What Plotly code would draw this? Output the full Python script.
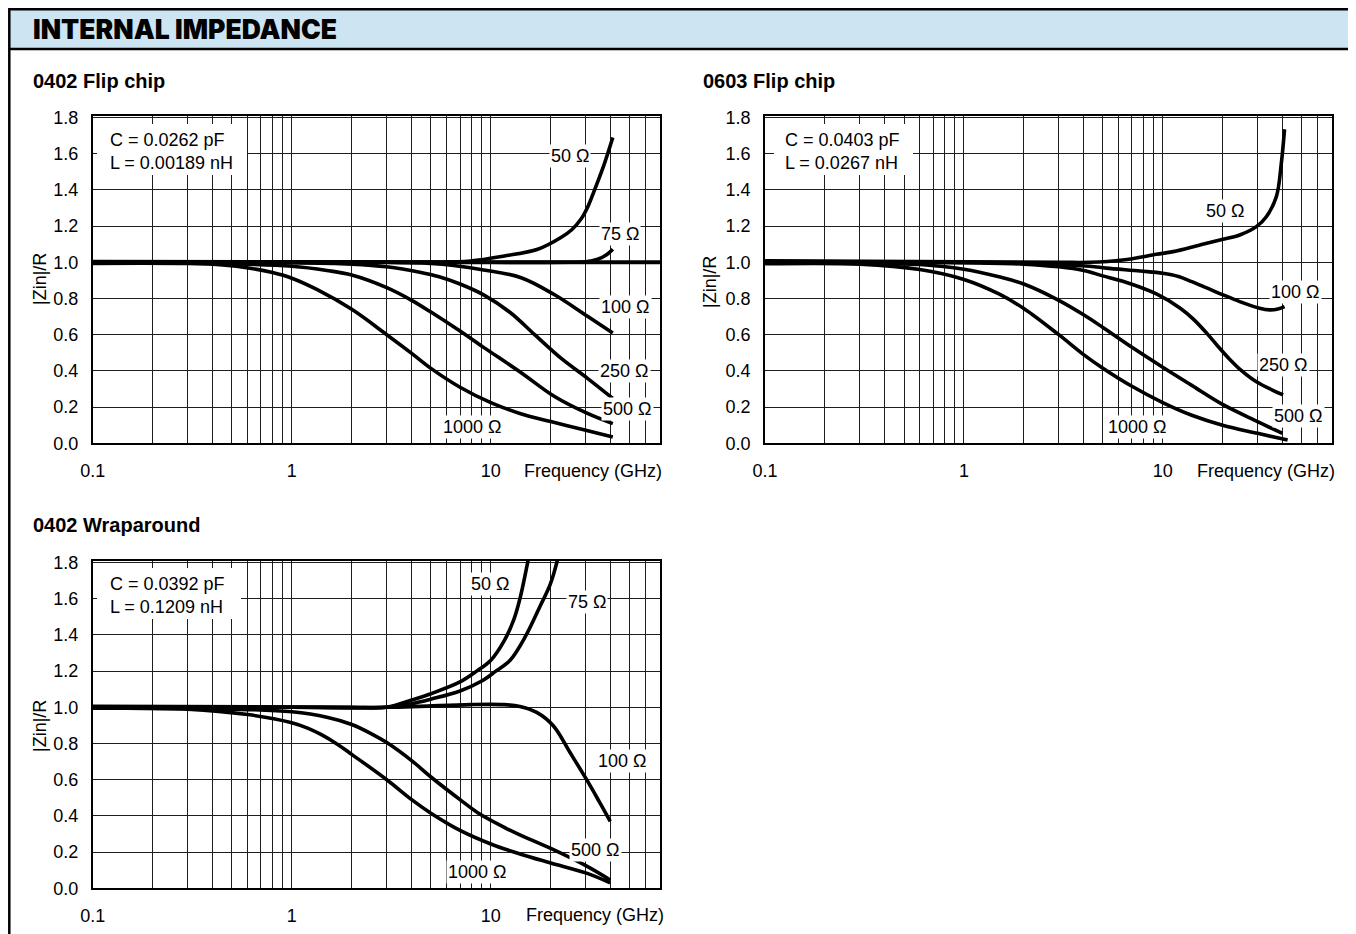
import plotly.graph_objects as go

W, H = 1356, 934

# ---------------- data ----------------
x_tick_vals = [0.1, 0.2, 0.3, 0.4, 0.5, 0.6, 0.7, 0.8, 0.9,
               1, 2, 3, 4, 5, 6, 7, 8, 9,
               10, 20, 30, 40, 50, 60, 70]
x_tick_text = ["0.1", "", "", "", "", "", "", "", "",
               "1", "", "", "", "", "", "", "", "",
               "10", "", "", "", "", "", ""]
y_tick_vals = [0.0, 0.2, 0.4, 0.6, 0.8, 1.0, 1.2, 1.4, 1.6, 1.8]
y_tick_text = ["0.0", "0.2", "0.4", "0.6", "0.8", "1.0", "1.2", "1.4", "1.6", "1.8"]

# Panel 1: 0402 Flip chip
f1_50 = [0.1, 1, 3, 5, 7.9, 11.7, 17.2, 22.5, 25.5, 28.4, 30.8, 33.1, 36.8, 41]
z1_50 = [1.004, 1.002, 1.0, 1.0, 1.007, 1.035, 1.072, 1.137, 1.18, 1.239, 1.31, 1.396, 1.53, 1.69]
f1_75 = [0.1, 10, 25, 30, 34.4, 38, 41]
z1_75 = [1.002, 1.0, 1.0, 1.003, 1.017, 1.04, 1.072]
f1_100 = [0.1, 3, 5, 6.5, 9.2, 14.2, 20.8, 30.6, 41]
z1_100 = [1.0, 1.0, 0.993, 0.982, 0.958, 0.915, 0.822, 0.702, 0.609]
f1_250 = [0.1, 1, 2, 3, 4.4, 5.5, 7, 9.2, 12.6, 16.6, 22.5, 30.6, 41]
z1_250 = [0.998, 0.998, 0.99, 0.975, 0.945, 0.92, 0.88, 0.82, 0.72, 0.60, 0.47, 0.359, 0.248]
f1_500 = [0.1, 0.4, 1, 1.5, 2, 3, 4, 5, 7, 9.2, 14.2, 20.8, 30.6, 41]
z1_500 = [0.996, 0.994, 0.978, 0.955, 0.93, 0.86, 0.79, 0.725, 0.62, 0.53, 0.39, 0.26, 0.165, 0.109]
f1_1000 = [0.1, 0.3, 0.45, 0.617, 0.8, 1, 1.335, 2, 3, 4, 5, 7, 10, 14, 20, 30, 41]
z1_1000 = [0.994, 0.993, 0.985, 0.967, 0.943, 0.912, 0.85, 0.74, 0.60, 0.497, 0.414, 0.31, 0.225, 0.165, 0.12, 0.072, 0.035]

# Panel 2: 0603 Flip chip
f2_50 = [0.1, 3, 4.3, 6.3, 9.3, 11.3, 15.4, 20.1, 24.4, 29.6, 33.2, 37.3, 39.5, 41]
z2_50 = [1.008, 1.0, 1.0, 1.013, 1.044, 1.059, 1.096, 1.127, 1.151, 1.197, 1.252, 1.363, 1.547, 1.735]
f2_100 = [0.1, 2, 4.3, 5.2, 7.7, 10, 12, 14, 16.5, 20.1, 24.4, 30.7, 34.5, 38, 41]
z2_100 = [1.004, 0.995, 0.978, 0.968, 0.952, 0.94, 0.922, 0.893, 0.86, 0.82, 0.783, 0.746, 0.737, 0.742, 0.755]
f2_250 = [0.1, 1, 2, 3, 4, 5, 6.3, 9.3, 12.3, 14.3, 16.6, 19, 21.7, 25, 29.6, 40.3]
z2_250 = [1.0, 0.998, 0.99, 0.975, 0.955, 0.925, 0.895, 0.825, 0.745, 0.685, 0.61, 0.535, 0.465, 0.40, 0.34, 0.267]
f2_500 = [0.1, 0.3, 0.6, 1, 1.5, 2, 3, 4, 5, 7, 10, 14, 20, 30, 40]
z2_500 = [0.996, 0.995, 0.988, 0.962, 0.92, 0.88, 0.79, 0.71, 0.64, 0.53, 0.42, 0.32, 0.215, 0.12, 0.055]
f2_1000 = [0.1, 0.3, 0.6, 1, 1.5, 2, 3, 4, 5, 7, 10, 14, 20, 30, 42.5]
z2_1000 = [0.992, 0.99, 0.96, 0.905, 0.825, 0.745, 0.6, 0.49, 0.415, 0.315, 0.225, 0.155, 0.10, 0.055, 0.018]

# Panel 3: 0402 Wraparound
f3_50 = [0.1, 1, 2, 3, 4, 5, 7, 8.5, 10, 11.7, 13, 14, 15.5]
z3_50 = [1.005, 1.002, 1.0, 1.0, 1.04, 1.075, 1.14, 1.2, 1.26, 1.37, 1.48, 1.6, 1.83]
f3_75 = [0.1, 1, 3, 4, 5, 7, 9, 10.6, 12.5, 14.9, 17.7, 19.9, 21.8]
z3_75 = [1.003, 1.0, 1.0, 1.02, 1.045, 1.09, 1.145, 1.2, 1.26, 1.39, 1.56, 1.68, 1.83]
f3_100 = [0.1, 1, 3, 4.4, 7.9, 11.6, 14, 17, 20.6, 25, 30.3, 35, 39.8]
z3_100 = [1.0, 1.0, 1.0, 1.005, 1.015, 1.015, 1.005, 0.972, 0.898, 0.75, 0.60, 0.48, 0.37]
f3_500 = [0.1, 0.5, 1, 1.5, 2, 2.5, 3, 4, 5, 7, 8.8, 12, 14, 20, 30, 39.8]
z3_500 = [0.997, 0.99, 0.975, 0.945, 0.905, 0.855, 0.805, 0.705, 0.615, 0.49, 0.41, 0.33, 0.295, 0.22, 0.125, 0.046]
f3_1000 = [0.1, 0.3, 0.6, 1, 1.2, 1.4, 1.7, 2, 3, 4, 5, 7, 10, 14, 20, 30, 39.8]
z3_1000 = [0.995, 0.99, 0.96, 0.915, 0.885, 0.85, 0.795, 0.74, 0.60, 0.49, 0.415, 0.32, 0.245, 0.19, 0.14, 0.085, 0.03]

panel_titles = ["0402 Flip chip", "0603 Flip chip", "0402 Wraparound"]
panel_params = ["C = 0.0262 pF<br>L = 0.00189 nH",
                "C = 0.0403 pF<br>L = 0.0267 nH",
                "C = 0.0392 pF<br>L = 0.1209 nH"]
curve_names = {
    1: ["50 Ω", "75 Ω", "100 Ω", "250 Ω", "500 Ω", "1000 Ω"],
    2: ["50 Ω", "100 Ω", "250 Ω", "500 Ω", "1000 Ω"],
    3: ["50 Ω", "75 Ω", "100 Ω", "500 Ω", "1000 Ω"],
}
curves = {
    1: [(f1_50, z1_50), (f1_75, z1_75), (f1_100, z1_100), (f1_250, z1_250), (f1_500, z1_500), (f1_1000, z1_1000)],
    2: [(f2_50, z2_50), (f2_100, z2_100), (f2_250, z2_250), (f2_500, z2_500), (f2_1000, z2_1000)],
    3: [(f3_50, z3_50), (f3_75, z3_75), (f3_100, z3_100), (f3_500, z3_500), (f3_1000, z3_1000)],
}

# ---------------- layout helpers ----------------
FONT = "Liberation Sans, Arial, Helvetica, sans-serif"
PAGE_OFF = 8  # the page places the figure 8 px in from the top-left corner

def px2x(px):
    return (px - PAGE_OFF) / W

def px2y(py):
    return 1 - (py - PAGE_OFF) / H

areas = {
    1: (92.7, 660.0, 115.7, 443.3),
    2: (765.0, 1331.7, 115.7, 443.3),
    3: (92.7, 660.0, 560.7, 888.3),
}
label_pos = {
    1: [(570, 156), (620, 234), (625, 307), (624, 371), (627, 409), (472, 427)],
    2: [(1225, 211), (1295, 292), (1283, 365), (1298, 416), (1137, 427)],
    3: [(490, 584), (587, 602), (622, 761), (595, 850), (477, 872)],
}
param_box = {
    1: (97, 247, 124, 175, 108, 151),
    2: (774, 913, 124, 175, 783, 151),
    3: (97, 241, 568, 619, 108, 595),
}
ylabel_pos = {1: (40, 279), 2: (710, 282), 3: (40, 726)}
freq_pos = {1: (664, 471), 2: (1337, 471), 3: (666, 915)}
title_pos = {1: (31, 81), 2: (701, 81), 3: (31, 525)}

fig = go.Figure()
layout = dict(
    width=W, height=H,
    margin=dict(l=0, r=0, t=0, b=0, pad=0, autoexpand=False),
    paper_bgcolor="white", plot_bgcolor="white",
    showlegend=False,
    font=dict(family=FONT, size=18, color="black"),
)
shapes = []
annotations = []

for p in (1, 2, 3):
    l, r, t, b = areas[p]
    sfx = "" if p == 1 else str(p)
    xa = dict(
        type="log", range=[-1.0005, 1.85],
        domain=[px2x(l), px2x(r)],
        anchor="y" + sfx,
        tickmode="array", tickvals=x_tick_vals, ticktext=x_tick_text,
        showgrid=True, gridcolor="#1e1e1e", gridwidth=1.1,
        showline=True, linecolor="black", linewidth=1.6, mirror=True,
        ticks="", ticklabelstandoff=10,
        tickfont=dict(family=FONT, size=18, color="black"),
        zeroline=False, fixedrange=True, automargin=False,
    )
    ya = dict(
        range=[0, 1.81],
        domain=[px2y(b), px2y(t)],
        anchor="x" + sfx,
        tickmode="array", tickvals=y_tick_vals, ticktext=y_tick_text,
        showgrid=True, gridcolor="#1e1e1e", gridwidth=1.1,
        showline=True, linecolor="black", linewidth=1.6, mirror=True,
        ticks="", ticklabelstandoff=9,
        tickfont=dict(family=FONT, size=18, color="black"),
        zeroline=False, fixedrange=True, automargin=False,
    )
    layout["xaxis" + sfx] = xa
    layout["yaxis" + sfx] = ya

    for (fx, zy) in curves[p]:
        fig.add_trace(go.Scatter(
            x=fx, y=zy, mode="lines",
            line=dict(color="black", width=3.6, shape="spline", smoothing=1.0),
            xaxis="x" + sfx, yaxis="y" + sfx, hoverinfo="skip", showlegend=False,
        ))

    for name, (cx, cy) in zip(curve_names[p], label_pos[p]):
        annotations.append(dict(
            x=px2x(cx), y=px2y(cy), xref="paper", yref="paper",
            text=name, showarrow=False, xanchor="center", yanchor="middle",
            bgcolor="white", borderpad=1,
            font=dict(family=FONT, size=18, color="black"),
        ))

    bl, br, bt, bb, tl, tcy = param_box[p]
    shapes.append(dict(type="rect", xref="paper", yref="paper",
                       x0=px2x(bl), x1=px2x(br), y0=px2y(bb), y1=px2y(bt),
                       fillcolor="white", line=dict(width=0), layer="above"))
    annotations.append(dict(
        x=px2x(tl), y=px2y(tcy), xref="paper", yref="paper",
        text=panel_params[p - 1], showarrow=False, xanchor="left", yanchor="middle",
        align="left", font=dict(family=FONT, size=18, color="black"),
    ))

    yx, yy = ylabel_pos[p]
    annotations.append(dict(
        x=px2x(yx), y=px2y(yy), xref="paper", yref="paper",
        text="|Zin|/R", textangle=-90, showarrow=False,
        xanchor="center", yanchor="middle",
        font=dict(family=FONT, size=18, color="black"),
    ))
    fx_, fy_ = freq_pos[p]
    annotations.append(dict(
        x=px2x(fx_), y=px2y(fy_), xref="paper", yref="paper",
        text="Frequency (GHz)", showarrow=False,
        xanchor="right", yanchor="middle",
        font=dict(family=FONT, size=18, color="black"),
    ))
    tx, ty = title_pos[p]
    annotations.append(dict(
        x=px2x(tx), y=px2y(ty), xref="paper", yref="paper",
        text="<b>" + panel_titles[p - 1] + "</b>", showarrow=False,
        xanchor="left", yanchor="middle",
        font=dict(family=FONT, size=20, color="black"),
    ))

# reference line at 1.0 across the first panel
shapes.append(dict(type="line", xref="x domain", yref="y", x0=0, x1=1, y0=1.0, y1=1.0,
                   line=dict(color="black", width=4), layer="above"))

# header band and page frame
shapes.append(dict(type="rect", xref="paper", yref="paper",
                   x0=px2x(9.3), x1=px2x(1354.5), y0=px2y(49), y1=px2y(9.3),
                   fillcolor="#cde4f2", line=dict(color="black", width=2.5), layer="above"))
shapes.append(dict(type="line", xref="paper", yref="paper",
                   x0=px2x(9.3), x1=px2x(9.3), y0=px2y(49), y1=px2y(942),
                   line=dict(color="black", width=2.5), layer="above"))
shapes.append(dict(type="line", xref="paper", yref="paper",
                   x0=px2x(1354.5), x1=px2x(1354.5), y0=px2y(49), y1=px2y(942),
                   line=dict(color="black", width=2.5), layer="above"))
annotations.append(dict(
    x=px2x(31), y=px2y(29), xref="paper", yref="paper",
    text="INTERNAL IMPEDANCE", showarrow=False, xanchor="left", yanchor="middle",
    font=dict(family="Inter, DejaVu Sans, sans-serif", size=26.5, color="black", weight=900),
))

layout["shapes"] = shapes
layout["annotations"] = annotations
fig.update_layout(**layout)
fig.write_html("out.html")
